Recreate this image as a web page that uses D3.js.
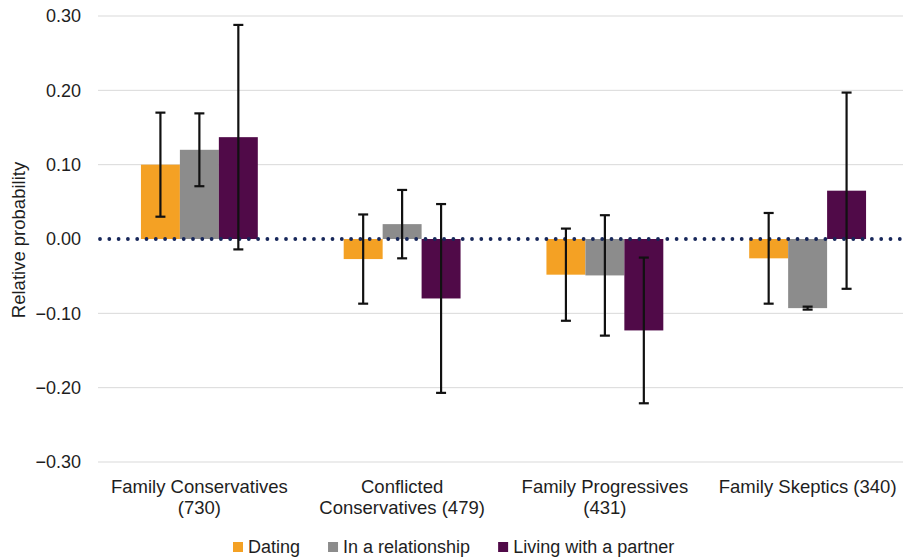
<!DOCTYPE html>
<html>
<head>
<meta charset="utf-8">
<script src="https://cdn.jsdelivr.net/npm/d3@7"></script>
<style>
  html, body { margin: 0; padding: 0; background: #fff; }
  svg { display: block; }
  text { font-family: "Liberation Sans", Arial, Helvetica, sans-serif; fill: #1e1e1e; }
</style>
</head>
<body>
<svg id="chart" width="903" height="559"></svg>
<script>
// ---- data ----
const categories = [
  ["Family Conservatives", "(730)"],
  ["Conflicted", "Conservatives (479)"],
  ["Family Progressives", "(431)"],
  ["Family Skeptics (340)"]
];
const seriesNames = ["Dating", "In a relationship", "Living with a partner"];
const dating       = [0.100, -0.027, -0.048, -0.026];
const relationship = [0.120,  0.020, -0.049, -0.093];
const living       = [0.137, -0.080, -0.123,  0.065];
const datingErr       = [0.070, 0.060, 0.062, 0.061];
const relationshipErr = [0.049, 0.046, 0.081, 0.002];
const livingErr       = [0.151, 0.127, 0.098, 0.132];
const yTicks = [-0.3, -0.2, -0.1, 0.0, 0.1, 0.2, 0.3];
const colors = ["#F4A124", "#8C8C8C", "#500A48"];

const seriesValues = [dating, relationship, living];
const seriesErrs = [datingErr, relationshipErr, livingErr];

(function () {
const svg = d3.select("#chart");
const mLeft = 98, mRight = 909, mTop = 16, mBottom = 462;

const x0 = d3.scaleBand()
  .domain(d3.range(categories.length))
  .range([mLeft, mRight])
  .paddingInner(0.4236)
  .paddingOuter(0.2118);
const x1 = d3.scaleBand()
  .domain(d3.range(seriesNames.length))
  .range([0, x0.bandwidth()]);
const y = d3.scaleLinear().domain([-0.3, 0.3]).range([mBottom, mTop]);

// gridlines
svg.append("g").selectAll("line")
  .data(yTicks.filter(t => t !== 0))
  .join("line")
  .attr("x1", mLeft).attr("x2", 903)
  .attr("y1", d => y(d)).attr("y2", d => y(d))
  .attr("stroke", "#d9d9d9").attr("stroke-width", 1);

// y tick labels
const fmt = d3.format(".2f");
svg.append("g").selectAll("text")
  .data(yTicks)
  .join("text")
  .attr("x", 81)
  .attr("y", d => y(d))
  .attr("dy", "0.35em")
  .attr("text-anchor", "end")
  .style("font-size", "18px")
  .text(d => fmt(d));

// y axis title
svg.append("text")
  .attr("transform", "translate(25,240) rotate(-90)")
  .attr("text-anchor", "middle")
  .style("font-size", "18.5px")
  .text("Relative probability");

// bars
const rows = [];
categories.forEach((c, ci) => {
  seriesNames.forEach((s, si) => {
    rows.push({ci, si, v: seriesValues[si][ci], e: seriesErrs[si][ci]});
  });
});

svg.append("g").selectAll("rect")
  .data(rows)
  .join("rect")
  .attr("x", d => x0(d.ci) + x1(d.si))
  .attr("width", x1.bandwidth())
  .attr("y", d => y(Math.max(0, d.v)))
  .attr("height", d => Math.abs(y(d.v) - y(0)))
  .attr("fill", d => colors[d.si]);

// zero dotted line
svg.append("line")
  .attr("x1", mLeft + 2).attr("x2", 903)
  .attr("y1", y(0)).attr("y2", y(0))
  .attr("stroke", "#17275A")
  .attr("stroke-width", 3.8)
  .attr("stroke-linecap", "round")
  .attr("stroke-dasharray", "0,9.3");

// error bars
const eg = svg.append("g").attr("stroke", "#111").attr("stroke-width", 2.2);
const capW = 10;
rows.forEach(d => {
  const cx = x0(d.ci) + x1(d.si) + x1.bandwidth() / 2;
  const y1 = y(d.v + d.e), y2 = y(d.v - d.e);
  eg.append("line").attr("x1", cx).attr("x2", cx).attr("y1", y1).attr("y2", y2);
  eg.append("line").attr("x1", cx - capW / 2).attr("x2", cx + capW / 2).attr("y1", y1).attr("y2", y1);
  eg.append("line").attr("x1", cx - capW / 2).attr("x2", cx + capW / 2).attr("y1", y2).attr("y2", y2);
});

// category labels
const cg = svg.append("g");
categories.forEach((lines, ci) => {
  const t = cg.append("text")
    .attr("text-anchor", "middle")
    .style("font-size", "18.5px");
  lines.forEach((ln, li) => {
    t.append("tspan")
      .attr("x", x0(ci) + x0.bandwidth() / 2)
      .attr("y", 493 + li * 21)
      .text(ln);
  });
});

// legend
const lg = svg.append("g");
let lx = 233;
seriesNames.forEach((name, si) => {
  lg.append("rect")
    .attr("x", lx).attr("y", 542)
    .attr("width", 10).attr("height", 10)
    .attr("fill", colors[si]);
  const t = lg.append("text")
    .attr("x", lx + 15).attr("y", 553)
    .style("font-size", "18px")
    .text(name);
  lx += 15 + t.node().getComputedTextLength() + 28;
});
})();
</script>
</body>
</html>
